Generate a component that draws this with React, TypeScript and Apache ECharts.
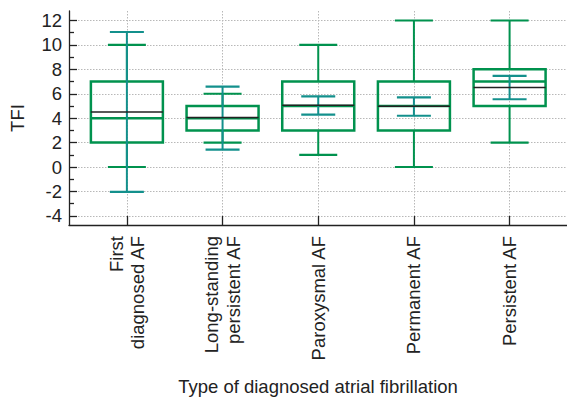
import React, { useEffect, useRef } from "react";
import * as echarts from "echarts";

const categories = [
  "First\ndiagnosed AF",
  "Long-standing\npersistent AF",
  "Paroxysmal AF",
  "Permanent AF",
  "Persistent AF",
];
const whiskerLow = [0, 2, 1, 0, 2];
const q1 = [2, 3, 3, 3, 5];
const median = [4, 4, 5, 5, 7];
const q3 = [7, 5, 7, 7, 8];
const whiskerHigh = [10, 6, 10, 12, 12];
const mean = [4.5, 4.05, 5.06, 4.98, 6.51];
const ciLow = [-2.04, 1.43, 4.29, 4.2, 5.55];
const ciHigh = [11.06, 6.59, 5.79, 5.71, 7.46];
const yMajorTicks = [-4, -2, 0, 2, 4, 6, 8, 10, 12];
const yMinorTicks = [-3, -1, 1, 3, 5, 7, 9, 11];
const xPositions = [1, 2, 3, 4, 5];

const GREEN = "#00924e";
const TEAL = "#13908c";
const FONT = "'Liberation Sans', Arial, sans-serif";
const FS = 18.5;

export default function App() {
  const ref = useRef<HTMLDivElement>(null);
  useEffect(() => {
    if (!ref.current) return;
    const chart = echarts.init(ref.current, null, { renderer: "svg" });
    const data = categories.map((_, i) => [
      xPositions[i],
      whiskerLow[i],
      q1[i],
      median[i],
      q3[i],
      whiskerHigh[i],
      mean[i],
      ciLow[i],
      ciHigh[i],
    ]);
    const grid = "#b8b8b8";
    chart.setOption({
      animation: false,
      textStyle: { fontFamily: FONT },
      grid: { left: 67.3, top: 11, width: 502.3, height: 217.3 },
      xAxis: {
        type: "value",
        min: 0.395,
        max: 5.6,
        name: "Type of diagnosed atrial fibrillation",
        nameLocation: "middle",
        nameGap: 152,
        nameTextStyle: { fontSize: FS, color: "#222", fontFamily: FONT },
        axisLine: { show: true, onZero: false, lineStyle: { color: "#222", width: 1.3 } },
        axisTick: { show: true, inside: true, length: 9, customValues: xPositions, lineStyle: { color: "#222", width: 1.3 } },
        axisLabel: {
          customValues: xPositions,
          formatter: (v: number) => categories[Math.round(v) - 1] ?? "",
          rotate: 90,
          fontSize: FS,
          lineHeight: 21.5,
          margin: 11,
          color: "#222",
          fontFamily: FONT,
        },
        splitLine: { show: true, lineStyle: { color: grid, type: [1.5, 1.5], width: 1 } },
      },
      yAxis: [
        {
          type: "value",
          min: -4.75,
          max: 12.78,
          name: "TFI",
          nameLocation: "middle",
          nameGap: 42,
          nameTextStyle: { fontSize: FS, color: "#222", fontFamily: FONT },
          axisLine: { show: true, onZero: false, lineStyle: { color: "#222", width: 1.3 } },
          axisTick: { show: true, inside: true, length: 8, customValues: yMajorTicks, lineStyle: { color: "#222", width: 1.3 } },
          axisLabel: { customValues: yMajorTicks, fontSize: FS, margin: 7, color: "#222", fontFamily: FONT },
          splitLine: { show: true, lineStyle: { color: grid, type: [1.5, 1.5], width: 1 } },
        },
        {
          type: "value",
          min: -4.75,
          max: 12.78,
          position: "left",
          axisLine: { show: false },
          axisTick: { show: true, inside: true, length: 5, customValues: yMinorTicks, lineStyle: { color: "#222", width: 1.3 } },
          axisLabel: { show: false },
          splitLine: { show: false },
        },
      ],
      series: [
        {
          type: "custom",
          data,
          clip: false,
          renderItem: (params: any, api: any) => {
            const x = api.value(0);
            const py = (v: number) => api.coord([x, v])[1];
            const cx = api.coord([x, 0])[0];
            const yWL = py(api.value(1));
            const yQ1 = py(api.value(2));
            const yMed = py(api.value(3));
            const yQ3 = py(api.value(4));
            const yWH = py(api.value(5));
            const yMean = py(api.value(6));
            const yCL = py(api.value(7));
            const yCH = py(api.value(8));
            const bw = 36;
            const cw = 19;
            const tw = 17;
            const line = (x1: number, y1: number, x2: number, y2: number, color: string, w: number) => ({
              type: "line",
              shape: { x1, y1, x2, y2 },
              style: { stroke: color, lineWidth: w },
            });
            return {
              type: "group",
              children: [
                line(cx, yQ3, cx, yWH, GREEN, 2),
                line(cx, yWL, cx, yQ1, GREEN, 2),
                line(cx - cw, yWH, cx + cw, yWH, GREEN, 2.2),
                line(cx - cw, yWL, cx + cw, yWL, GREEN, 2.2),
                {
                  type: "rect",
                  shape: { x: cx - bw, y: yQ3, width: 2 * bw, height: yQ1 - yQ3 },
                  style: { fill: "none", stroke: GREEN, lineWidth: 2.5 },
                },
                line(cx - bw, yMed, cx + bw, yMed, GREEN, 2.5),
                line(cx, yCL, cx, yCH, TEAL, 2),
                line(cx - tw, yCH, cx + tw, yCH, TEAL, 2.2),
                line(cx - tw, yCL, cx + tw, yCL, TEAL, 2.2),
                line(cx - bw, yMean, cx + bw, yMean, "#222", 1.5),
              ],
            };
          },
        },
      ],
    });
    return () => chart.dispose();
  }, []);
  return (
    <div
      ref={ref}
      style={{ position: "absolute", left: 0, top: 0, width: 567, height: 401, background: "#fff" }}
    />
  );
}
